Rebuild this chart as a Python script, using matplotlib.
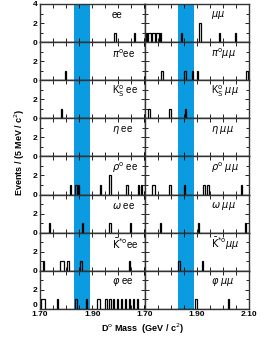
import numpy as np
import matplotlib
matplotlib.use("Agg")
import matplotlib.pyplot as plt

# D0 -> X l+ l- candidate masses (GeV/c^2), one entry per event
mode_labels = [r"$\pi^{\rm o}$", r"K$^{\rm o}_{\rm S}$ ", r"$\eta$ ", r"$\rho^{\rm o}$ ",
               r"$\omega$ ", r"$\bar{\rm K}^{*\rm o}$", r"$\varphi$ "]
row_labels = [""] + mode_labels

ee_masses = [
    [1.9875, 2.0625],
    [1.7975],
    [1.7825],
    [],
    [1.8175, 1.8375, 1.8475, 1.9325, 1.9675, 1.9675, 2.0325, 2.0775, 2.0875],
    [1.7375, 1.8625, 1.9675, 2.0475],
    [1.7125, 1.7775, 1.7825, 1.7875, 1.8075, 1.8575, 2.0425],
    [1.7075, 1.7125, 1.7175, 1.7675, 1.8375, 1.8775, 1.9225, 1.9275, 1.9525,
     1.9675, 1.9825, 1.9975, 2.0125, 2.0275, 2.0425, 2.0575, 2.0725],
]
mumu_masses = [
    [1.7075, 1.7175, 1.7225, 1.7325, 1.7375, 1.7475, 1.7525, 1.7625,
     1.8425, 1.9125, 1.9125, 1.9875, 2.0475],
    [1.7675, 1.8525, 1.8575, 1.8825, 1.9025, 2.0925],
    [1.7175, 1.7975, 1.8575],
    [],
    [1.7325, 1.7375, 1.7975, 1.8525, 1.9275, 1.9425, 2.0725],
    [1.7625, 1.9075, 2.0875],
    [1.8325, 1.9225],
    [1.8975, 2.0225],
]

signal_lo, signal_hi = 1.83, 1.89
mass_lo, mass_hi, bin_w = 1.70, 2.10, 0.005
edges = np.arange(mass_lo, mass_hi + bin_w / 2, bin_w)

W, H = 269, 338
fig = plt.figure(figsize=(W / 100, H / 100), dpi=100)
plt.rcParams['font.family'] = ['Liberation Sans', 'DejaVu Sans']
plt.rcParams['mathtext.fontset'] = 'dejavusans'

left_px, top_px, panel_w, row_h = 40, 4, 104.5, 38.1
frame = '#333333'

for r in range(8):
    for c, (masses, lep) in enumerate([(ee_masses, "ee"), (mumu_masses, r"$\mu\mu$")]):
        x0 = (left_px + c * panel_w) / W
        y0 = 1 - (top_px + (r + 1) * row_h) / H
        ax = fig.add_axes([x0, y0, panel_w / W, row_h / H])
        ax.axvspan(signal_lo, signal_hi, color='#0a9be0', lw=0, zorder=0)
        counts, _ = np.histogram(masses[r], bins=edges)
        ax.stairs(counts, edges, color='black', lw=0.9, zorder=2)
        ax.set_xlim(mass_lo, mass_hi)
        ax.set_ylim(0, 4)
        ax.set_xticks(np.arange(1.70, 2.101, 0.05))
        ax.set_yticks([0, 2, 4] if r == 0 else [0, 2])
        ax.set_yticks([1, 3], minor=True)
        ax.tick_params(which='both', direction='in', top=True, right=True,
                       length=3, width=0.6, labelsize=6, pad=2)
        ax.tick_params(which='minor', length=2)
        for s in ax.spines.values():
            s.set_color(frame)
            s.set_linewidth(1.0)
        if c == 0:
            ylabs = ax.set_yticklabels([str(v) for v in ax.get_yticks().astype(int)],
                                       fontweight='bold')
            if r == 7:
                # lift the bottom zero so it clears the mass labels
                ylabs[0].set_va('bottom')
        else:
            ax.set_yticklabels([])
        if r == 7:
            labs = ["1.70", "", "", "", "1.90", "", "", "", "" if c == 0 else "2.10"]
            ax.set_xticklabels(labs, fontweight='bold')
            ax.tick_params(axis='x', pad=1.5)
        else:
            ax.set_xticklabels([])
        xt = 0.69 if c == 0 else 0.635
        ax.text(xt, 0.70, row_labels[r] + lep, transform=ax.transAxes,
                ha='left', va='center', fontsize=7)

fig.text(0.075, 0.55, r"Events / (5 MeV / c$^2$)", rotation=90,
         ha='center', va='center', fontsize=6.5, fontweight='bold')
fig.text(0.53, 0.028, r"D$^{\rm o}$ Mass  (GeV / c$^2$)",
         ha='center', va='center', fontsize=6.5, fontweight='bold')

fig.savefig("out.png", dpi=100)
